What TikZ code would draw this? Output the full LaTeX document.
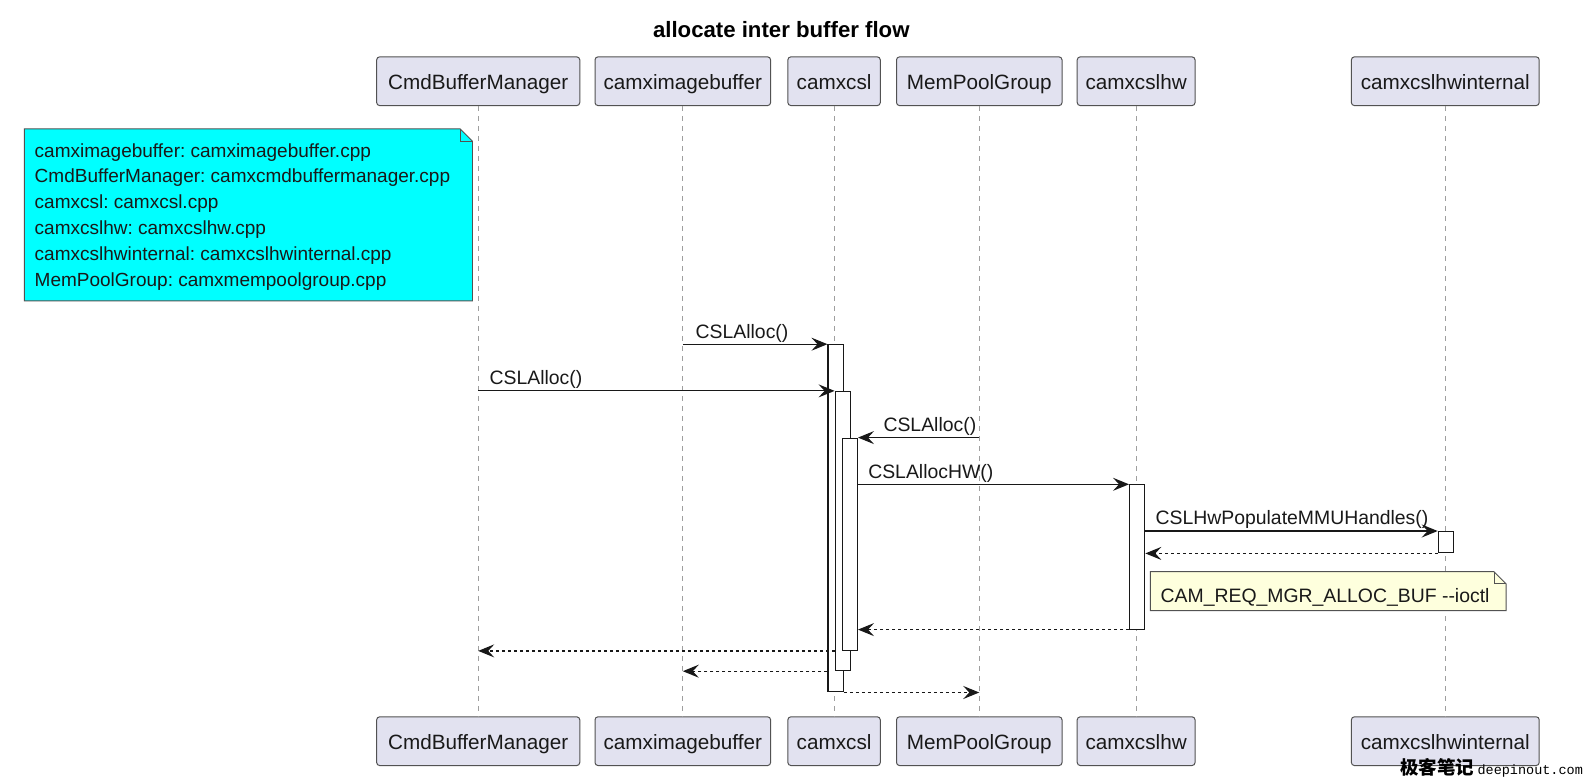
\documentclass[tikz,border=0pt]{standalone}
\usepackage{fontspec}
\setmainfont{Liberation Sans}
\newfontfamily\cjkfont{Noto Sans CJK SC}
\newfontfamily\wmmono{Liberation Mono}
\usetikzlibrary{arrows.meta,calc}
\definecolor{partfill}{HTML}{E2E2F0}
\definecolor{linecol}{HTML}{181818}
\definecolor{notecyan}{HTML}{00FFFF}
\definecolor{noteyellow}{HTML}{FEFFDD}
\frenchspacing
\begin{document}
\begin{tikzpicture}[x=1.0153pt,y=-1.0153pt,
  font=\fontsize{19.4}{23}\selectfont,
  part/.style={draw=linecol!75, fill=partfill, rounded corners=3pt, line width=1pt,
    minimum height=48.7pt, inner xsep=0pt, inner ysep=0pt, text height=17pt, text depth=0pt,
    text=black!90, font=\fontsize{20.7}{24}\selectfont},
  life/.style={draw=gray!75, dash pattern=on 5pt off 5pt, line width=1pt},
  actbar/.style={draw=linecol, fill=white, line width=1.1pt, inner sep=0pt,
    minimum width=15.2pt, anchor=north west},
  msg/.style={draw=linecol, line width=1.2pt, -{Stealth[length=16pt,width=13pt,inset=6pt]}},
  ret/.style={msg, dash pattern=on 3pt off 3pt},
  lbl/.style={anchor=base west, inner sep=0pt, text=black!90},
  notebox/.style={draw=linecol!75, line width=0.9pt}
]
\fill[white] (0,0) rectangle (1568,767.27);
\useasboundingbox (0,0) rectangle (1568,767.27);

% title
\node[font=\fontsize{22.2}{26}\selectfont\bfseries] (title) at (769.5,29) {allocate inter buffer flow};

% participants (top)
\node[part, minimum width=203.1pt] (cbmT) at (471,80) {CmdBufferManager};
\node[part, minimum width=175.6pt] (cibT) at (672.5,80) {camximagebuffer};
\node[part, minimum width=92.4pt]  (cslT) at (821.5,80) {camxcsl};
\node[part, minimum width=165.5pt] (mpgT) at (964.5,80) {MemPoolGroup};
\node[part, minimum width=117.8pt] (hwT)  at (1119,80) {camxcslhw};
\node[part, minimum width=187.8pt] (hwiT) at (1423.5,80) {camxcslhwinternal};
% participants (bottom)
\node[part, minimum width=203.1pt] (cbmB) at (471,730) {CmdBufferManager};
\node[part, minimum width=175.6pt] (cibB) at (672.5,730) {camximagebuffer};
\node[part, minimum width=92.4pt]  (cslB) at (821.5,730) {camxcsl};
\node[part, minimum width=165.5pt] (mpgB) at (964.5,730) {MemPoolGroup};
\node[part, minimum width=117.8pt] (hwB)  at (1119,730) {camxcslhw};
\node[part, minimum width=187.8pt] (hwiB) at (1423.5,730) {camxcslhwinternal};

% lifelines
\draw[life] (cbmT.south) -- (cbmB.north);
\draw[life] (cibT.south) -- (cibB.north);
\draw[life] (cslT.south) -- (cslB.north);
\draw[life] (mpgT.south) -- (mpgB.north);
\draw[life] (hwT.south) -- (hwB.north);
\draw[life] (hwiT.south) -- (hwiB.north);

% cyan note
\node[anchor=north west, minimum width=447.7pt, minimum height=171.6pt, inner sep=0pt] (note1) at (24,127) {};
\fill[notecyan] (note1.north west) -- ($(note1.north east)+(-12,0)$) -- ($(note1.north east)+(0,12)$)
  -- (note1.south east) -- (note1.south west) -- cycle;
\draw[notebox] (note1.north west) -- ($(note1.north east)+(-12,0)$) -- ($(note1.north east)+(0,12)$)
  -- (note1.south east) -- (note1.south west) -- cycle;
\draw[notebox] ($(note1.north east)+(-12,0)$) -- ($(note1.north east)+(-12,12)$) -- ($(note1.north east)+(0,12)$);
\node[anchor=north west, align=left, inner sep=0pt, text=black!90,
  font=\fontsize{19}{25.8}\selectfont] (note1t) at (34,141) {camximagebuffer: camximagebuffer.cpp\\
CmdBufferManager: camxcmdbuffermanager.cpp\\
camxcsl: camxcsl.cpp\\
camxcslhw: camxcslhw.cpp\\
camxcslhwinternal: camxcslhwinternal.cpp\\
MemPoolGroup: camxmempoolgroup.cpp};

% activation bars
\node[actbar, minimum height=347.2pt] (a1) at (815,339) {};
\node[actbar, minimum height=279.2pt] (a2) at (822,385) {};
\node[actbar, minimum height=212.2pt] (a3) at (829,431) {};
\node[actbar, minimum height=144.2pt] (a4) at (1112,477) {};
\node[actbar, minimum height=21.3pt]  (a5) at (1416,523) {};

% messages
\draw[msg] (cibT.south |- a1.north west) -- (a1.north west);
\node[lbl] (l1) at (685,333) {CSLAlloc()};
\draw[msg] (cbmT.south |- a2.north west) -- (a2.north west);
\node[lbl] (l2) at (482,379) {CSLAlloc()};
\draw[msg] (mpgT.south |- a3.north east) -- (a3.north east);
\node[lbl] (l3) at (870,425) {CSLAlloc()};
\draw[msg] (a3.east |- a4.north west) -- (a4.north west);
\node[lbl] (l4) at (855,471) {CSLAllocHW()};
\draw[msg] (a4.east |- a5.north west) -- (a5.north west);
\node[lbl] (l5) at (1138,517) {CSLHwPopulateMMUHandles()};
\draw[ret] (a5.south west) -- (a4.east |- a5.south west);

% yellow note
\node[anchor=north west, minimum width=355.4pt, minimum height=38.6pt, inner sep=0pt] (note2) at (1133,563) {};
\fill[noteyellow] (note2.north west) -- ($(note2.north east)+(-12,0)$) -- ($(note2.north east)+(0,12)$)
  -- (note2.south east) -- (note2.south west) -- cycle;
\draw[notebox] (note2.north west) -- ($(note2.north east)+(-12,0)$) -- ($(note2.north east)+(0,12)$)
  -- (note2.south east) -- (note2.south west) -- cycle;
\draw[notebox] ($(note2.north east)+(-12,0)$) -- ($(note2.north east)+(-12,12)$) -- ($(note2.north east)+(0,12)$);
\node[lbl] (note2t) at (1143,593) {CAM\_REQ\_MGR\_ALLOC\_BUF -\kern0pt-ioctl};

% returns
\draw[ret] (a4.south west) -- (a3.east |- a4.south west);
\draw[ret] (a2.west |- a3.south) -- (cbmT.south |- a3.south);
\draw[ret] (a1.west |- a2.south) -- (cibT.south |- a2.south);
\draw[ret] (a1.south east) -- (mpgT.south |- a1.south east);

% watermark
\node[anchor=base west, inner sep=0pt] (wm) at (1379,763) {{\cjkfont\bfseries\fontsize{18.5}{20}\selectfont 极客笔记}\,{\wmmono\fontsize{13.5}{16}\selectfont deepinout.com}};
\end{tikzpicture}
\end{document}
